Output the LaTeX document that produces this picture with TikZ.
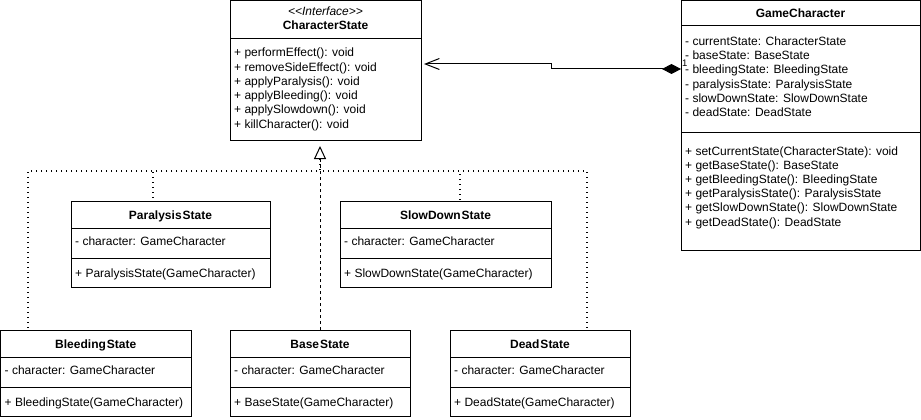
\documentclass[tikz,border=0pt]{standalone}
\usepackage{fontspec}
\setmainfont{Liberation Sans}
\usetikzlibrary{arrows.meta}
\newcommand{\umlsmallclass}[7]{%
  \node[box, minimum width=#4pt, minimum height=86pt] (#1) at (#2,#3) {};
  \draw[sep] (#2,{#3+27}) -- ({#2+#4},{#3+27});
  \draw[sep] (#2,{#3+57}) -- ({#2+#4},{#3+57});
  \node[ttl] (#1-t) at ({#2+#4/2},{#3+18.5}) {#5};
  \node[txt] (#1-a) at ({#2+4},{#3+44}) {#6};
  \node[txt] (#1-m) at ({#2+4},{#3+76}) {#7};
}
\begin{document}
\begin{tikzpicture}[x=1pt,y=-1pt,
  box/.style={draw, line width=1pt, fill=white, inner sep=0pt, outer sep=0pt, anchor=north west},
  sep/.style={line width=1pt},
  txt/.style={inner sep=0pt, anchor=base west, font=\fontsize{12}{14}\selectfont},
  ttl/.style={inner sep=0pt, anchor=base, font=\fontsize{12}{14}\selectfont\bfseries},
  realize/.style={line width=1.5pt, dash pattern=on 1.2pt off 3.8pt},
  dashedline/.style={line width=1pt, dash pattern=on 3pt off 3pt},
  assoc/.style={line width=1pt}]
\fill[white] (0,0) rectangle (921,420);
\useasboundingbox (0,0) rectangle (921,420);

% CharacterState
\node[box, minimum width=191pt, minimum height=139pt] (cs) at (230,1) {};
\draw[sep] (230,39) -- (421,39);
\node[inner sep=0pt, anchor=base, font=\fontsize{12}{14}\selectfont\itshape] (cs-st) at (325.5,15.5) {<{}<Interface>{}>};
\node[ttl] (cs-name) at (325.5,30) {CharacterState};
\foreach \m [count=\i from 0] in {+ performEffect(): void, + removeSideEffect(): void, + applyParalysis(): void, + applyBleeding(): void, + applySlowdown(): void, + killCharacter(): void}
  \node[txt] (cs-m\i) at (234,{57+14.2*\i}) {\m};

% GameCharacter
\node[box, minimum width=239pt, minimum height=249pt] (gc) at (681,1) {};
\draw[sep] (681,26) -- (920,26);
\draw[sep] (681,132) -- (920,132);
\node[ttl] (gc-name) at (800.5,17.5) {GameCharacter};
\foreach \a [count=\i from 0] in {- currentState: CharacterState, - baseState: BaseState, - bleedingState: BleedingState, - paralysisState: ParalysisState, - slowDownState: SlowDownState, - deadState: DeadState}
  \node[txt] (gc-a\i) at (685,{45.5+14.2*\i}) {\a};
\foreach \m [count=\i from 0] in {+ setCurrentState(CharacterState): void, + getBaseState(): BaseState, + getBleedingState(): BleedingState, + getParalysisState(): ParalysisState, + getSlowDownState(): SlowDownState, + getDeadState(): DeadState}
  \node[txt] (gc-m\i) at (685,{155+14.2*\i}) {\m};

% State classes
\umlsmallclass{par}{71}{201}{199}{Paralysis\kern1pt State}{- character: GameCharacter}{+ ParalysisState(GameCharacter)}
\umlsmallclass{slow}{340}{201}{211}{SlowDown\kern1pt State}{- character: GameCharacter}{+ SlowDownState(GameCharacter)}
\umlsmallclass{bleed}{0.5}{330}{190.5}{Bleeding\kern1pt State}{- character: GameCharacter}{+ BleedingState(GameCharacter)}
\umlsmallclass{base}{230}{330}{180}{Base\kern1pt State}{- character: GameCharacter}{+ BaseState(GameCharacter)}
\umlsmallclass{dead}{450}{330}{180}{Dead\kern1pt State}{- character: GameCharacter}{+ DeadState(GameCharacter)}

% Association (composition)
\draw[assoc, {Diamond[length=19pt,width=10pt]}-{Straight Barb[length=14pt,width=11pt,line width=1pt]}]
  ([yshift=-68pt]gc.north west) -- ++(-130,0) -- ++(0,-5) -- ([xshift=3pt,yshift=-63pt]cs.north east);
\node[inner sep=0pt, anchor=base west, font=\fontsize{9.5}{11}\selectfont] (mult) at (682,66.5) {1};

% Realization / inheritance
\coordinate (tb) at ([yshift=171pt]base.north);
\draw[realize] (tb) -- ++(0,12) -| ([xshift=27.5pt]bleed.north west);
\draw[realize] (tb) -- ++(0,12) -| ([xshift=82pt]par.north west);
\draw[realize] (tb) -- ++(0,12) -| ([xshift=120pt]slow.north west);
\draw[realize] (tb) -- ++(0,12) -| ([xshift=137pt]dead.north west);
\draw[dashedline, -{Triangle[open, length=13pt, width=12pt, line width=1pt]}] (base.north) -- ([yshift=13pt]tb);
\end{tikzpicture}
\end{document}
